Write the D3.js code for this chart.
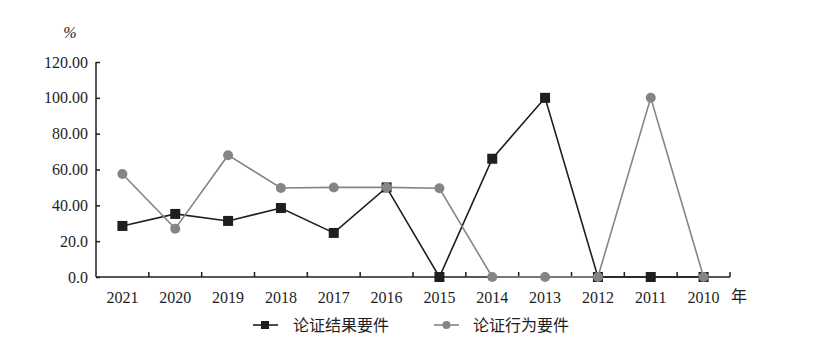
<!DOCTYPE html>
<html>
<head>
<meta charset="utf-8">
<script src="https://cdn.jsdelivr.net/npm/d3@7"></script>
<style>
body { margin: 0; background: #fff; }
text { font-family: "Liberation Serif", "Times New Roman", serif; }
.cjk { font-family: "Noto Sans CJK SC", sans-serif; }
</style>
</head>
<body>
<svg width="831" height="349"></svg>
<script>
var years = ['2021', '2020', '2019', '2018', '2017', '2016', '2015', '2014', '2013', '2012', '2011', '2010'];
var resultReq = [28.5, 35.2, 31.3, 38.5, 24.6, 50, 0, 66, 100, 0, 0, 0];
var actionReq = [57.5, 27, 68, 49.7, 50, 50, 49.5, 0, 0, 0, 100, 0];
var yTicks = [0, 20, 40, 60, 80, 100, 120];
var yTickLabels = ['0.0', '20.0', '40.00', '60.00', '80.00', '100.00', '120.00'];
var seriesNames = ['论证结果要件', '论证行为要件'];

var svg = d3.select('svg');
var plotLeft = 96, plotRight = 730, plotTop = 62, plotBottom = 277;

var x = d3.scaleBand().domain(years).range([plotLeft, plotRight]);
var y = d3.scaleLinear().domain([0, 120]).range([plotBottom, plotTop]);

var ink = '#1e1e1e', grey = '#858585';

// y axis, ticks pointing inward
var yAxis = d3.axisLeft(y).tickValues(yTicks)
  .tickFormat(function(d, i) { return yTickLabels[i]; })
  .tickSize(-4).tickPadding(8);
var gy = svg.append('g').attr('transform', 'translate(' + plotLeft + ',0)').call(yAxis);
gy.select('.domain').attr('stroke', ink).attr('stroke-width', 1.5)
  .attr('d', 'M0,' + plotBottom + 'V' + plotTop);
gy.selectAll('.tick line').attr('stroke', ink).attr('stroke-width', 1.5);
gy.selectAll('.tick text').attr('font-size', 16).attr('fill', ink)
  .style('font-family', '"Liberation Serif", serif');

// x axis: ticks on band boundaries, pointing up
var gx = svg.append('g').attr('transform', 'translate(0,' + plotBottom + ')');
gx.append('line').attr('x1', plotLeft).attr('x2', plotRight).attr('stroke', ink).attr('stroke-width', 1.5);
gx.selectAll('line.tk').data(d3.range(1, years.length + 1)).enter()
  .append('line').attr('class', 'tk')
  .attr('x1', function(d) { return plotLeft + d * x.bandwidth(); })
  .attr('x2', function(d) { return plotLeft + d * x.bandwidth(); })
  .attr('y1', 0).attr('y2', -5)
  .attr('stroke', ink).attr('stroke-width', 1.5);
gx.selectAll('text.yr').data(years).enter()
  .append('text').attr('class', 'yr')
  .attr('x', function(d) { return x(d) + x.bandwidth() / 2; })
  .attr('y', 26).attr('text-anchor', 'middle')
  .attr('font-size', 16).attr('fill', ink)
  .text(function(d) { return d; });

svg.append('text').attr('x', 70).attr('y', 38).attr('text-anchor', 'middle')
  .attr('font-size', 16).attr('fill', ink).attr('font-style', 'italic').text('%');
svg.append('text').attr('class', 'cjk').attr('x', 739).attr('y', 302)
  .attr('text-anchor', 'middle').attr('font-size', 16).attr('fill', ink).text('年');

var line = d3.line()
  .x(function(d, i) { return x(years[i]) + x.bandwidth() / 2; })
  .y(function(d) { return y(d); });

// result series (black squares)
svg.append('path').datum(resultReq).attr('d', line)
  .attr('fill', 'none').attr('stroke', ink).attr('stroke-width', 1.6);
svg.selectAll('rect.res').data(resultReq).enter()
  .append('rect').attr('class', 'res')
  .attr('x', function(d, i) { return x(years[i]) + x.bandwidth() / 2 - 5; })
  .attr('y', function(d) { return y(d) - 5; })
  .attr('width', 10).attr('height', 10).attr('fill', ink);

// action series (grey circles)
svg.append('path').datum(actionReq).attr('d', line)
  .attr('fill', 'none').attr('stroke', grey).attr('stroke-width', 1.6);
svg.selectAll('circle.act').data(actionReq).enter()
  .append('circle').attr('class', 'act')
  .attr('cx', function(d, i) { return x(years[i]) + x.bandwidth() / 2; })
  .attr('cy', function(d) { return y(d); })
  .attr('r', 5).attr('fill', grey);

// legend
var leg = svg.append('g').attr('transform', 'translate(0,325)');
leg.append('line').attr('x1', 253).attr('x2', 278).attr('stroke', ink).attr('stroke-width', 1.6);
leg.append('rect').attr('x', 261).attr('y', -4).attr('width', 8).attr('height', 8).attr('fill', ink);
leg.append('text').attr('class', 'cjk').attr('x', 293).attr('y', 6)
  .attr('font-size', 16).attr('fill', ink).text(seriesNames[0]);
leg.append('line').attr('x1', 434).attr('x2', 459).attr('stroke', grey).attr('stroke-width', 1.6);
leg.append('circle').attr('cx', 446.5).attr('cy', 0).attr('r', 4).attr('fill', grey);
leg.append('text').attr('class', 'cjk').attr('x', 473).attr('y', 6)
  .attr('font-size', 16).attr('fill', ink).text(seriesNames[1]);
</script>
</body>
</html>
